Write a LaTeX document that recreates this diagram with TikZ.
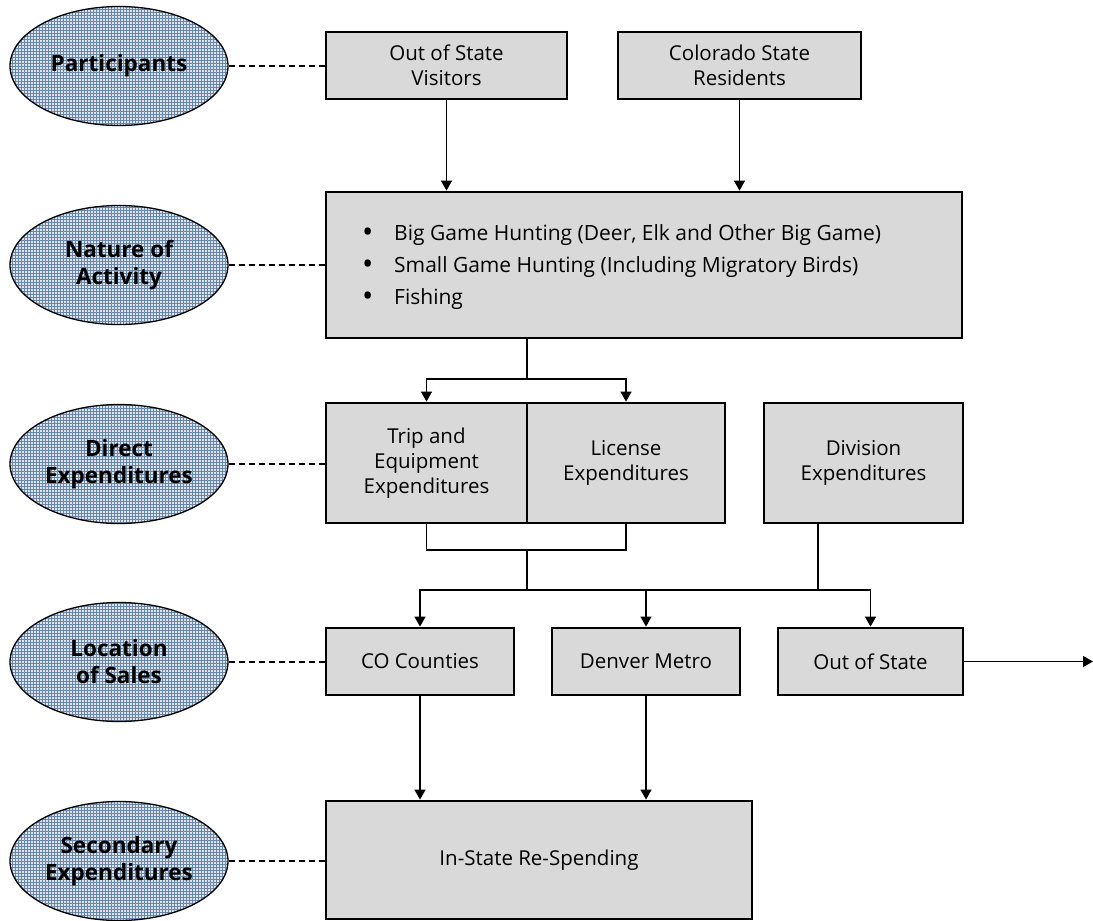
\documentclass[tikz,border=0pt]{standalone}
\usepackage{fontspec}
\setmainfont{Open Sans}
\usetikzlibrary{positioning,arrows.meta,shapes.geometric,patterns}
\definecolor{boxfill}{HTML}{D9D9D9}
\definecolor{ovalbg}{HTML}{DCE4EE}
\definecolor{ovalgrid}{HTML}{6A86A6}

\begin{document}
\begin{tikzpicture}[x=1pt,y=-1pt,
  stage/.style={ellipse,draw=black,line width=1.3pt,preaction={fill=ovalbg},pattern=grid,pattern color=ovalgrid,minimum width=218pt,minimum height=119pt,inner sep=0pt,align=center,font=\fontsize{22.5}{27}\selectfont\bfseries},
  flowbox/.style={draw=black,fill=boxfill,line width=2.8pt,inner sep=0pt,align=center,font=\fontsize{20.5}{25}\selectfont},
  guide/.style={dash pattern=on 6pt off 4pt,line width=1.2pt},
  wire/.style={line width=1.3pt},
  flow/.style={wire,-{Triangle[length=10pt,width=11pt]}}]
  \useasboundingbox (0,0) rectangle (1093,921);
  \newcommand\dotmark{\makebox[32pt][l]{\raisebox{-2.5pt}{\fontsize{30}{0}\selectfont\textbullet}}}

  % stages on the left
  \node[stage] (p1) at (119,66) {Participants};
  \node[stage] (p2) at (119,265) {Nature of\\Activity};
  \node[stage] (p3) at (119,464) {Direct\\Expenditures};
  \node[stage] (p4) at (119,662) {Location\\of Sales};
  \node[stage] (p5) at (119,861) {Secondary\\Expenditures};

  % boxes
  \node[flowbox,minimum width=241pt,minimum height=67pt] (ovis) at (446.5,65.5) {Out of State\\Visitors};
  \node[flowbox,minimum width=243pt,minimum height=67pt] (cres) at (739.5,65.5) {Colorado State\\Residents};
  \node[flowbox,minimum width=636pt,minimum height=146pt] (act) at (644,265) {};
  \node[anchor=west,align=left,inner sep=0pt,font=\fontsize{21}{32}\selectfont] (list) at (362,267)
    {\dotmark Big Game Hunting (Deer, Elk and Other Big Game)\\
     \dotmark Small Game Hunting (Including Migratory Birds)\\
     \dotmark Fishing};
  \node[flowbox,minimum width=201pt,minimum height=120pt] (trip) at (426.5,463) {Trip and\\Equipment\\Expenditures};
  \node[flowbox,minimum width=198pt,minimum height=120pt] (lic) at (626,463) {License\\Expenditures};
  \node[flowbox,minimum width=199pt,minimum height=120pt] (div) at (863.5,463) {Division\\Expenditures};
  \node[flowbox,minimum width=188pt,minimum height=67pt] (co) at (420,661.5) {CO Counties};
  \node[flowbox,minimum width=188pt,minimum height=67pt] (den) at (646,661.5) {Denver Metro};
  \node[flowbox,minimum width=185pt,minimum height=67pt] (oos) at (870.5,661.5) {Out of State};
  \node[flowbox,minimum width=426pt,minimum height=118pt] (res) at (539,860) {In-State Re-Spending};

  % dashed guides
  \draw[guide] (p1.east) -- (p1.east -| ovis.west);
  \draw[guide] (p2.east) -- (p2.east -| act.west);
  \draw[guide] (p3.east) -- (p3.east -| trip.west);
  \draw[guide] (p4.east) -- (p4.east -| co.west);
  \draw[guide] (p5.east) -- (p5.east -| res.west);

  % connectors
  \draw[flow] (ovis) -- (ovis |- act.north);
  \draw[flow] (cres) -- (cres |- act.north);
  \coordinate (split) at (527,379);
  \draw[wire] (act.south -| split) -- (split);
  \draw[flow] (split) -| (trip.north);
  \draw[flow] (split) -| (lic.north);
  \coordinate (join) at (527,550);
  \draw[wire] (trip.south) |- (join) -| (lic.south);
  \coordinate (fan) at (527,590);
  \coordinate (divfoot) at (818,590);
  \draw[wire] (join) -- (fan);
  \draw[wire] (div.south -| divfoot) -- (divfoot);
  \draw[wire] (fan) -- (divfoot);
  \draw[flow] (fan) -| (co.north);
  \draw[flow] (fan) -| (den.north);
  \draw[flow] (divfoot) -| (oos.north);
  \draw[flow] (co) -- (co |- res.north);
  \draw[flow] (den) -- (den |- res.north);
  \coordinate (away) at (1093,661.5);
  \draw[flow] (oos) -- (away);
\end{tikzpicture}
\end{document}
